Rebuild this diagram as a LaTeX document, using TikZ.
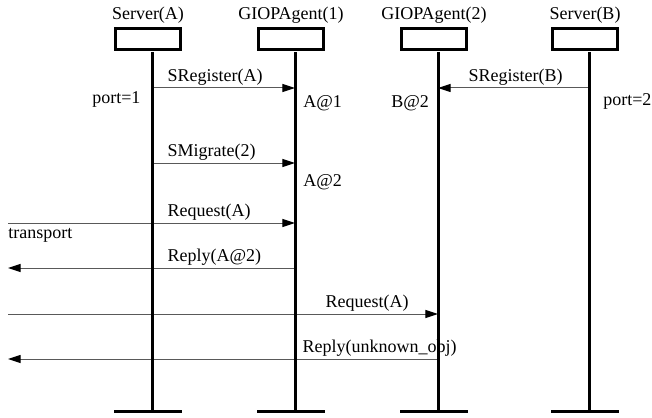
\documentclass[tikz,border=0pt]{standalone}
\usepackage{fontspec}
\setmainfont{Liberation Serif}
\usetikzlibrary{arrows.meta,positioning}

\begin{document}
\begin{tikzpicture}[x=0.75pt,y=-0.75pt,>={Triangle[length=9.5pt,width=6pt,color=black]},
                    font=\fontsize{13.5}{16}\selectfont]
  \tikzstyle{obj}=[rectangle,draw=black,line width=2.25pt,minimum width=49pt,
                   minimum height=15.75pt,inner sep=0pt]
  \tikzstyle{endbar}=[rectangle,fill=black,minimum width=51pt,minimum height=2.25pt,
                   inner sep=0pt,outer sep=0pt]
  \tikzstyle{life}=[line width=2.25pt]
  \tikzstyle{msg}=[->,draw=black!65,line width=0.75pt]
  \tikzstyle{lbl}=[inner sep=1pt,anchor=south west]
  \tikzstyle{note}=[inner sep=0pt,anchor=west]

  \useasboundingbox (0,0) rectangle (652,417);

  % objects, headers and end bars
  \foreach \n/\x/\t in {sa/152/Server(A),ga1/295/GIOPAgent(1),
                        ga2/438/GIOPAgent(2),sb/589/Server(B)}{
    \node[obj] (\n) at (\x-4,39) {};
    \node (h\n) [above=-1pt of \n] {\t};
    \node[endbar] (e\n) at (\x-4,411) {};
    \coordinate (l\n) at (\x,52);
  }

  % message rows, free ends on the left
  \coordinate (m1) at (8,88);
  \coordinate (m2) at (8,163);
  \coordinate (m3) at (8,223);
  \coordinate (m4) at (8,268);
  \coordinate (m5) at (8,314);
  \coordinate (m6) at (8,359);

  \draw[msg] (lsa |- m1) -- (lga1 |- m1);
  \draw[msg] (lsb |- m1) -- (lga2 |- m1);
  \draw[msg] (lsa |- m2) -- (lga1 |- m2);
  \draw[msg] (m3) -- (lga1 |- m3);
  \draw[msg] (lga1 |- m4) -- (m4);
  \draw[msg] (m5) -- (lga2 |- m5);
  \draw[msg] (lga2 |- m6) -- (m6);

  \node[lbl] (t1) at (166,87) {SRegister(A)};
  \node[lbl] (t2) at (467,87) {SRegister(B)};
  \node[lbl] (t3) at (166,162) {SMigrate(2)};
  \node[lbl] (t4) at (166,222) {Request(A)};
  \node[lbl] (t5) at (166,267) {Reply(A@2)};
  \node[lbl] (t6) at (324,313) {Request(A)};
  \node[lbl] (t7) at (301,358) {Reply(unknown\_obj)};

  \node[note] (p1) at (92,99)  {port=1};
  \node[note] (p2) at (603,101) {port=2};
  \node[note] (a1) at (303,103) {A@1};
  \node[note] (b2) at (391,103) {B@2};
  \node[note] (a2) at (303,182) {A@2};
  \node[note] (tr) at (8,235)  {transport};

  % lifelines
  \foreach \n in {sa,ga1,ga2,sb}
    \draw[life] (l\n) -- (l\n |- e\n.north);
\end{tikzpicture}
\end{document}
